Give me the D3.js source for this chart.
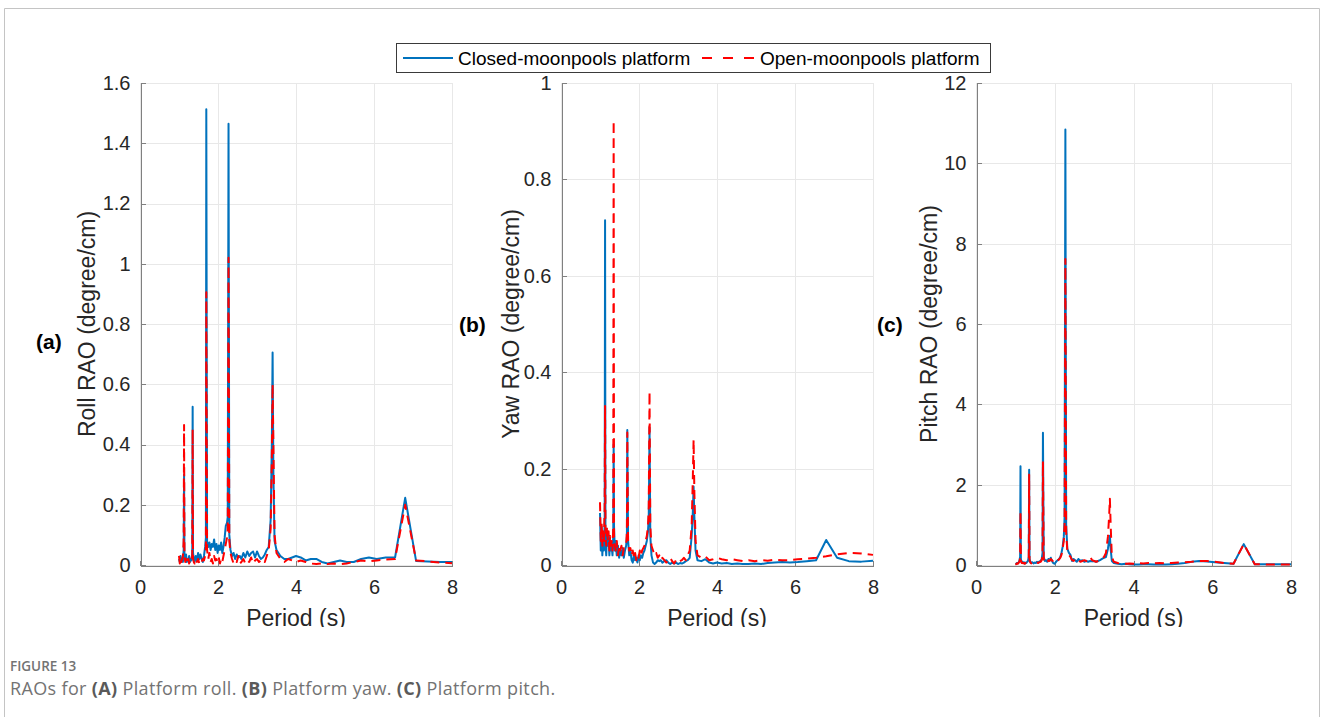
<!DOCTYPE html>
<html lang="en">
<head>
<meta charset="UTF-8">
<title>RAOs for platform roll, yaw and pitch</title>
<script src="https://d3js.org/d3.v7.min.js"></script>
<style>
    body { margin: 0; background: #ffffff; }
    svg { display: block; }
    .axis text { font-family: "Liberation Sans", Arial, sans-serif; font-size: 20px; fill: #262626; }
    .axis path, .axis line { stroke: #808080; shape-rendering: crispEdges; }
    .grid line { stroke: #e8e8e8; shape-rendering: crispEdges; }
    .lbl { font-family: "Liberation Sans", Arial, sans-serif; fill: #262626; }
    .cap { font-family: "Open Sans", "Noto Sans", sans-serif; fill: #737373; }
</style>
</head>
<body>
<svg width="1328" height="717"></svg>
<script>
// wave period (s), shared by the three panels
const period = [
    1.00, 1.02, 1.04, 1.06, 1.08, 1.10, 1.12, 1.13, 1.14, 1.16,
    1.18, 1.20, 1.22, 1.24, 1.26, 1.28, 1.30, 1.32, 1.34, 1.35,
    1.36, 1.38, 1.40, 1.43, 1.46, 1.49, 1.52, 1.55, 1.58, 1.61,
    1.64, 1.67, 1.69, 1.70, 1.72, 1.75, 1.78, 1.81, 1.84, 1.87,
    1.90, 1.93, 1.96, 1.99, 2.02, 2.05, 2.08, 2.11, 2.14, 2.17,
    2.20, 2.23, 2.25, 2.27, 2.29, 2.32, 2.36, 2.40, 2.44, 2.48,
    2.52, 2.56, 2.60, 2.65, 2.70, 2.75, 2.80, 2.85, 2.90, 2.95,
    3.00, 3.05, 3.10, 3.15, 3.20, 3.25, 3.30, 3.35, 3.38, 3.40,
    3.42, 3.45, 3.50, 3.60, 3.70, 3.80, 3.90, 4.00, 4.12, 4.25,
    4.38, 4.52, 4.66, 4.81, 4.97, 5.13, 5.30, 5.48, 5.67, 5.87,
    6.07, 6.30, 6.54, 6.80, 7.08, 7.38, 7.70, 8.00
];

const rollClosed = [
    0.02, 0.01, 0.03, 0.015, 0.02, 0.01, 0.05, 0.30, 0.03, 0.02,
    0.035, 0.01, 0.02, 0.015, 0.03, 0.01, 0.02, 0.015, 0.04, 0.525,
    0.04, 0.02, 0.01, 0.03, 0.015, 0.04, 0.02, 0.035, 0.02, 0.01,
    0.03, 0.06, 0.09, 1.513, 0.08, 0.06, 0.075, 0.05, 0.07, 0.06,
    0.085, 0.05, 0.07, 0.04, 0.065, 0.05, 0.075, 0.04, 0.06, 0.09,
    0.13, 0.14, 0.16, 1.465, 0.10, 0.05, 0.03, 0.04, 0.02, 0.035,
    0.025, 0.03, 0.02, 0.04, 0.025, 0.045, 0.03, 0.04, 0.045, 0.025,
    0.045, 0.03, 0.02, 0.025, 0.035, 0.05, 0.06, 0.15, 0.40, 0.705,
    0.30, 0.08, 0.05, 0.03, 0.02, 0.02, 0.025, 0.03, 0.025, 0.015,
    0.02, 0.02, 0.01, 0.005, 0.01, 0.015, 0.01, 0.01, 0.02, 0.025,
    0.02, 0.025, 0.025, 0.223, 0.013, 0.012, 0.01, 0.01
];
const rollOpen = [
    0.03, 0.005, 0.02, 0.01, 0.02, 0.03, 0.08, 0.465, 0.03, 0.01,
    0.02, 0.005, 0.015, 0.02, 0.005, 0.015, 0.01, 0.02, 0.03, 0.45,
    0.02, 0.01, 0.005, 0.02, 0.01, 0.02, 0.005, 0.015, 0.01, 0.02,
    0.015, 0.03, 0.06, 0.905, 0.05, 0.02, 0.04, 0.01, 0.02, 0.005,
    0.03, 0.015, 0.02, 0.01, 0.025, 0.005, 0.02, 0.01, 0.03, 0.05,
    0.07, 0.09, 0.12, 1.02, 0.08, 0.04, 0.02, 0.005, 0.015, 0.01,
    0.03, 0.005, 0.01, 0.02, 0.005, 0.015, 0.01, 0.025, 0.005, 0.015,
    0.02, 0.01, 0.015, 0.02, 0.01, 0.03, 0.05, 0.12, 0.35, 0.60,
    0.40, 0.10, 0.04, 0.02, 0.01, 0.02, 0.015, 0.01, 0.015, 0.01,
    0.005, 0.003, 0.005, 0.003, 0.005, 0.003, 0.005, 0.01, 0.015, 0.012,
    0.015, 0.018, 0.02, 0.20, 0.015, 0.012, 0.008, 0.006
];

const yawClosed = [
    0.108, 0.03, 0.08, 0.02, 0.06, 0.03, 0.09, 0.715, 0.05, 0.02,
    0.07, 0.04, 0.06, 0.02, 0.05, 0.03, 0.04, 0.02, 0.06, 0.25,
    0.08, 0.03, 0.05, 0.02, 0.04, 0.015, 0.03, 0.02, 0.035, 0.015,
    0.03, 0.04, 0.06, 0.28, 0.05, 0.02, 0.03, 0.01, 0.005, 0.02,
    0.01, 0.015, 0.005, 0.02, 0.01, 0.02, 0.015, 0.025, 0.03, 0.04,
    0.05, 0.07, 0.10, 0.285, 0.06, 0.02, 0.005, 0.002, 0.005, 0.01,
    0.008, 0.01, 0.005, 0.008, 0.01, 0.005, 0.002, 0.005, 0.003, 0.005,
    0.002, 0.004, 0.003, 0.005, 0.008, 0.01, 0.015, 0.06, 0.11, 0.163,
    0.10, 0.03, 0.01, 0.008, 0.012, 0.005, 0.003, 0.005, 0.003, 0.004,
    0.002, 0.003, 0.002, 0.002, 0.003, 0.002, 0.004, 0.005, 0.006, 0.005,
    0.006, 0.008, 0.01, 0.052, 0.015, 0.008, 0.007, 0.009
];
const yawOpen = [
    0.13, 0.05, 0.09, 0.04, 0.07, 0.05, 0.12, 0.33, 0.06, 0.04,
    0.08, 0.05, 0.07, 0.03, 0.06, 0.04, 0.05, 0.03, 0.08, 0.922,
    0.06, 0.04, 0.03, 0.05, 0.02, 0.04, 0.03, 0.04, 0.02, 0.035,
    0.035, 0.04, 0.07, 0.275, 0.05, 0.03, 0.035, 0.02, 0.03, 0.015,
    0.025, 0.01, 0.02, 0.015, 0.03, 0.02, 0.03, 0.035, 0.04, 0.05,
    0.06, 0.08, 0.12, 0.36, 0.08, 0.04, 0.03, 0.02, 0.025, 0.015,
    0.02, 0.01, 0.015, 0.01, 0.005, 0.01, 0.015, 0.008, 0.003, 0.01,
    0.005, 0.008, 0.01, 0.015, 0.01, 0.02, 0.03, 0.08, 0.18, 0.26,
    0.15, 0.05, 0.02, 0.015, 0.018, 0.01, 0.012, 0.015, 0.012, 0.01,
    0.012, 0.01, 0.008, 0.01, 0.008, 0.01, 0.009, 0.011, 0.01, 0.01,
    0.012, 0.013, 0.015, 0.018, 0.022, 0.025, 0.024, 0.021
];

const pitchClosed = [
    0.02, 0.03, 0.05, 0.04, 0.06, 0.1, 0.2, 2.46, 0.15, 0.06,
    0.08, 0.05, 0.07, 0.04, 0.06, 0.05, 0.08, 0.1, 0.2, 2.37,
    0.15, 0.08, 0.05, 0.07, 0.04, 0.06, 0.05, 0.08, 0.06, 0.09,
    0.1, 0.15, 0.3, 3.29, 0.2, 0.1, 0.12, 0.08, 0.15, 0.12,
    0.18, 0.1, 0.05, 0.03, 0.06, 0.1, 0.12, 0.15, 0.2, 0.3,
    0.45, 0.7, 1.2, 10.84, 1.0, 0.4, 0.3, 0.25, 0.1, 0.15,
    0.12, 0.08, 0.15, 0.1, 0.12, 0.08, 0.1, 0.08, 0.1, 0.09,
    0.1, 0.08, 0.1, 0.12, 0.15, 0.18, 0.2, 0.4, 0.6, 0.73,
    0.4, 0.1, 0.05, 0.03, 0.02, 0.03, 0.02, 0.01, 0.015, 0.02,
    0.02, 0.01, 0.02, 0.01, 0.02, 0.03, 0.05, 0.08, 0.1, 0.09,
    0.07, 0.05, 0.03, 0.52, 0.02, 0.02, 0.02, 0.02
];
const pitchOpen = [
    0.01, 0.02, 0.04, 0.03, 0.05, 0.08, 0.15, 1.34, 0.1, 0.05,
    0.06, 0.04, 0.05, 0.03, 0.05, 0.04, 0.06, 0.08, 0.15, 2.25,
    0.12, 0.06, 0.04, 0.06, 0.03, 0.05, 0.04, 0.06, 0.05, 0.07,
    0.08, 0.12, 0.25, 2.58, 0.15, 0.08, 0.1, 0.06, 0.12, 0.1,
    0.15, 0.12, 0.08, 0.05, 0.08, 0.1, 0.12, 0.14, 0.18, 0.25,
    0.4, 0.6, 1.0, 7.62, 0.8, 0.35, 0.25, 0.2, 0.12, 0.1,
    0.15, 0.1, 0.12, 0.08, 0.1, 0.12, 0.1, 0.15, 0.2, 0.12,
    0.1, 0.08, 0.1, 0.12, 0.15, 0.2, 0.3, 0.7, 1.2, 1.65,
    1.0, 0.2, 0.08, 0.05, 0.04, 0.03, 0.04, 0.03, 0.05, 0.04,
    0.05, 0.04, 0.05, 0.04, 0.05, 0.06, 0.07, 0.08, 0.1, 0.1,
    0.08, 0.05, 0.03, 0.52, 0.02, 0.01, 0.01, 0.01
];

const seriesNames = ["Closed-moonpools platform", "Open-moonpools platform"];
const xLabel = "Period (s)";
const yLabels = ["Roll RAO (degree/cm)", "Yaw RAO (degree/cm)", "Pitch RAO (degree/cm)"];
const panelTags = ["(a)", "(b)", "(c)"];
const yMax = [1.6, 1, 12];
const yTickCount = [8, 5, 6];

const BLUE = "#0072bd", RED = "#ff0000";
const plotTop = 83, plotBottom = 565;

const panels = [
    { left: 140, right: 452, closed: rollClosed, open: rollOpen, tagX: 36, tagY: 349, labX: 95 },
    { left: 561, right: 873, closed: yawClosed, open: yawOpen, tagX: 459, tagY: 332, labX: 519 },
    { left: 976, right: 1291, closed: pitchClosed, open: pitchOpen, tagX: 877, tagY: 332, labX: 937 }
];

const svg = d3.select("svg");

// page frame
svg.append("path").attr("d", "M4.5,717V8.5H1319.5V717")
   .attr("stroke", "#c4c4c4").attr("fill", "none");

// figure is clipped just under the x-axis labels
svg.append("defs").append("clipPath").attr("id", "figclip")
   .append("rect").attr("x", 0).attr("y", 0).attr("width", 1328).attr("height", 627);

const fig = svg.append("g").attr("clip-path", "url(#figclip)");

panels.forEach((p, i) => {
    const x = d3.scaleLinear().domain([0, 8]).range([p.left, p.right]);
    const y = d3.scaleLinear().domain([0, yMax[i]]).range([plotBottom, plotTop]);
    const xt = x.ticks(4), yt = y.ticks(yTickCount[i]);

    const grid = fig.append("g").attr("class", "grid");
    grid.selectAll(".gx").data(xt).join("line").attr("class", "gx")
        .attr("x1", d => Math.round(x(d)) + 0.5).attr("x2", d => Math.round(x(d)) + 0.5)
        .attr("y1", plotTop).attr("y2", plotBottom);
    grid.selectAll(".gy").data(yt).join("line").attr("class", "gy")
        .attr("x1", p.left).attr("x2", p.right)
        .attr("y1", d => Math.round(y(d)) + 0.5).attr("y2", d => Math.round(y(d)) + 0.5);

    fig.append("g").attr("class", "axis")
       .attr("transform", `translate(0,${plotBottom + 0.5})`)
       .call(d3.axisBottom(x).tickValues(xt).tickSizeInner(-5).tickSizeOuter(0).tickPadding(14))
       .call(g => g.selectAll("text").attr("dy", "0.71em"));

    fig.append("g").attr("class", "axis")
       .attr("transform", `translate(${p.left + 0.5},0)`)
       .call(d3.axisLeft(y).tickValues(yt).tickFormat(d3.format("~g"))
             .tickSizeInner(-5).tickSizeOuter(0).tickPadding(10));

    const pts = period.map((t, k) => [t, p.closed[k], p.open[k]]);
    const line = col => d3.line().x(d => x(d[0])).y(d => y(d[col]));

    fig.append("path").datum(pts)
       .attr("fill", "none").attr("stroke", BLUE).attr("stroke-width", 2)
       .attr("stroke-linejoin", "round").attr("d", line(1));
    fig.append("path").datum(pts)
       .attr("fill", "none").attr("stroke", RED).attr("stroke-width", 2)
       .attr("stroke-dasharray", "9,6").attr("stroke-linejoin", "round").attr("d", line(2));

    fig.append("text").attr("class", "lbl")
       .attr("x", (p.left + p.right) / 2).attr("y", 626)
       .attr("text-anchor", "middle").style("font-size", "23px")
       .text(xLabel);

    fig.append("text").attr("class", "lbl")
       .attr("transform", `translate(${p.labX},${(plotTop + plotBottom) / 2}) rotate(-90)`)
       .attr("text-anchor", "middle").style("font-size", "23px")
       .text(yLabels[i]);

    fig.append("text").attr("class", "lbl")
       .attr("x", p.tagX).attr("y", p.tagY)
       .style("font-size", "21px").style("font-weight", "bold").style("fill", "#000")
       .text(panelTags[i]);
});

// legend
const lg = fig.append("g");
lg.append("rect").attr("x", 396.5).attr("y", 43.5).attr("width", 594).attr("height", 29)
  .attr("fill", "#fff").attr("stroke", "#3a3a3a");
lg.append("line").attr("x1", 403).attr("x2", 453).attr("y1", 58).attr("y2", 58)
  .attr("stroke", BLUE).attr("stroke-width", 2);
lg.append("text").attr("class", "lbl").attr("x", 458).attr("y", 65)
  .style("font-size", "19px").style("fill", "#000").text(seriesNames[0]);
lg.append("line").attr("x1", 702).attr("x2", 754).attr("y1", 58).attr("y2", 58)
  .attr("stroke", RED).attr("stroke-width", 2).attr("stroke-dasharray", "10,11");
lg.append("text").attr("class", "lbl").attr("x", 760).attr("y", 65)
  .style("font-size", "19px").style("fill", "#000").text(seriesNames[1]);

// caption
svg.append("text").attr("class", "cap").attr("x", 10).attr("y", 671)
   .style("font-size", "13.5px").style("font-weight", 600).text("FIGURE 13");

const cap = svg.append("text").attr("class", "cap").attr("x", 10).attr("y", 695)
   .style("font-size", "18px").style("letter-spacing", "0.35px");
[["RAOs for ", false], ["(A)", true], [" Platform roll. ", false], ["(B)", true],
 [" Platform yaw. ", false], ["(C)", true], [" Platform pitch.", false]]
  .forEach(([s, b]) => {
      cap.append("tspan").style("font-weight", b ? 700 : 400)
         .style("fill", b ? "#5a5a5a" : "#737373").text(s);
  });
</script>
</body>
</html>
